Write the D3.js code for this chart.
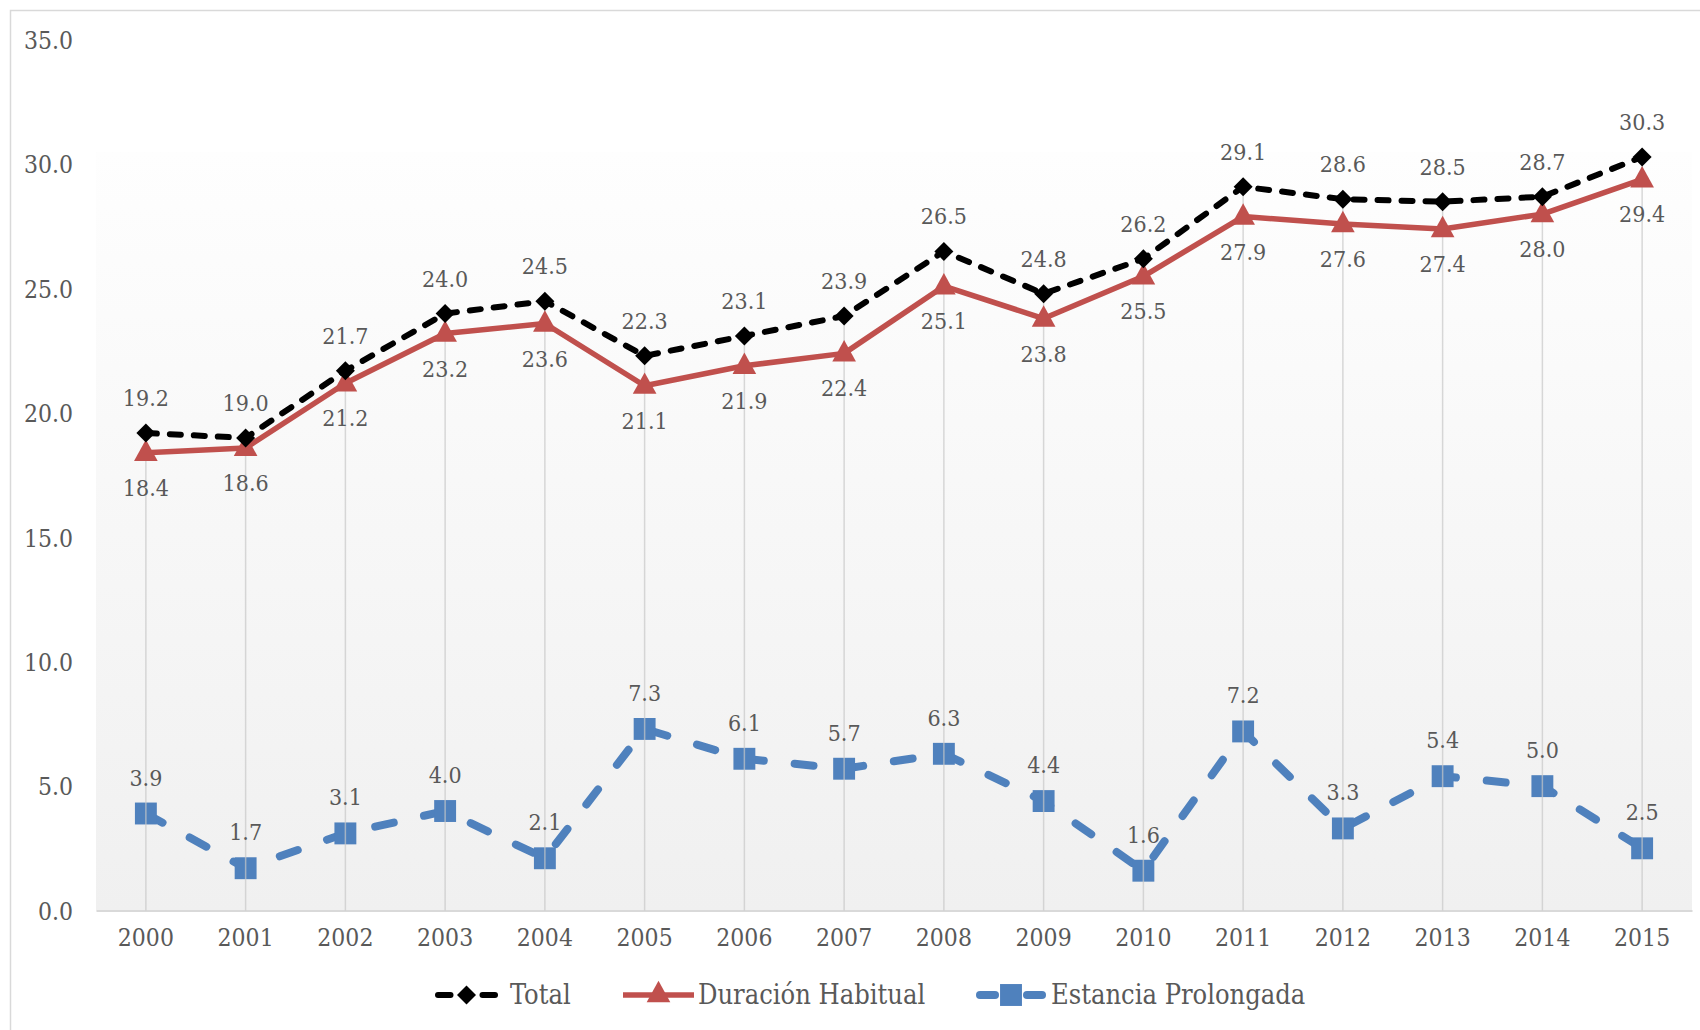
<!DOCTYPE html>
<html><head><meta charset="utf-8">
<script src="https://cdn.jsdelivr.net/npm/d3@7"></script>
<style>
html,body{margin:0;padding:0;background:#fff;}
svg text{font-family:"DejaVu Serif Condensed","DejaVu Serif","Liberation Serif",serif;font-stretch:condensed;fill:#595959;}
</style></head><body>
<svg id="c" width="1700" height="1030"></svg>
<script>
const years = ["2000","2001","2002","2003","2004","2005","2006","2007","2008","2009","2010","2011","2012","2013","2014","2015"];
const total = [19.2,19.0,21.7,24.0,24.5,22.3,23.1,23.9,26.5,24.8,26.2,29.1,28.6,28.5,28.7,30.3];
const habitual = [18.4,18.6,21.2,23.2,23.6,21.1,21.9,22.4,25.1,23.8,25.5,27.9,27.6,27.4,28.0,29.4];
const estancia = [3.9,1.7,3.1,4.0,2.1,7.3,6.1,5.7,6.3,4.4,1.6,7.2,3.3,5.4,5.0,2.5];
const yTicks = [0,5,10,15,20,25,30,35];
const seriesNames = ["Total","Duración Habitual","Estancia Prolongada"];

const svg = d3.select("#c");
const L=96, R=1692, T=40, B=910.5;
const x = d3.scaleBand().domain(years).range([L,R]);
const cx = d => x(d)+x.bandwidth()/2;
const y = d3.scaleLinear().domain([0,35]).range([B,T]);

// chart border
svg.append("rect").attr("x",10.5).attr("y",10.5).attr("width",1720).attr("height",1040)
  .attr("fill","#fff").attr("stroke","#d9d9d9").attr("stroke-width",1.5);

// plot area gradient
const defs = svg.append("defs");
const g = defs.append("linearGradient").attr("id","pg").attr("x1",0).attr("y1",0).attr("x2",0).attr("y2",1);
g.append("stop").attr("offset","0%").attr("stop-color","#fefefe");
g.append("stop").attr("offset","100%").attr("stop-color","#f0f0f0");
svg.append("rect").attr("x",L).attr("y",y(30.5)).attr("width",R-L).attr("height",B-y(30.5)).attr("fill","url(#pg)");

// y axis
const ya = svg.append("g").attr("transform",`translate(${L-20},0)`)
  .call(d3.axisLeft(y).tickValues(yTicks).tickFormat(d3.format(".1f")).tickSize(0));
ya.select(".domain").remove();
ya.selectAll("text").attr("font-size",24.5).attr("dy","0.35em").style("font-family",null);

// x axis
const xa = svg.append("g").attr("transform",`translate(0,${B})`)
  .call(d3.axisBottom(x).tickSize(0).tickPadding(18));
xa.select(".domain").attr("stroke","#d9d9d9").attr("stroke-width",2);
xa.selectAll("text").attr("font-size",24.5).style("font-family",null);

const idx = d3.range(years.length);
const line = arr => d3.line().x(i=>cx(years[i])).y(i=>y(arr[i]))(idx);

const cRed="#c0504d", cBlue="#4f81bd";

// series lines
svg.append("path").attr("d",line(estancia)).attr("fill","none").attr("stroke",cBlue)
  .attr("stroke-width",8).attr("stroke-linecap","round").attr("stroke-dasharray","19,31");
svg.append("path").attr("d",line(habitual)).attr("fill","none").attr("stroke",cRed)
  .attr("stroke-width",5.5).attr("stroke-linejoin","round");
svg.append("path").attr("d",line(total)).attr("fill","none").attr("stroke","#000")
  .attr("stroke-width",6).attr("stroke-linecap","round").attr("stroke-dasharray","11,13");

// markers
const sq = d3.symbol().type(d3.symbolSquare).size(480);
const tri = d3.symbol().type(d3.symbolTriangle).size(220);
const dia = d3.symbol().type(d3.symbolDiamond2).size(230);

svg.append("g").selectAll("path").data(idx).join("path")
  .attr("d",sq).attr("transform",i=>`translate(${cx(years[i])},${y(estancia[i])})`).attr("fill",cBlue);

// drop lines
svg.append("g").selectAll("line").data(idx).join("line")
  .attr("x1",i=>cx(years[i])).attr("x2",i=>cx(years[i]))
  .attr("y1",B).attr("y2",i=>y(Math.max(total[i],habitual[i],estancia[i])))
  .attr("stroke","#c8c8c8").attr("stroke-opacity",0.7).attr("stroke-width",1.5);

svg.append("g").selectAll("path").data(idx).join("path")
  .attr("d",tri).attr("transform",i=>`translate(${cx(years[i])},${y(habitual[i])+1}) scale(1.05,1.1)`).attr("fill",cRed);
svg.append("g").selectAll("path").data(idx).join("path")
  .attr("d",dia).attr("transform",i=>`translate(${cx(years[i])},${y(total[i])})`).attr("fill","#000");

// data labels
const fmt = d3.format(".1f");
function labels(arr, off){
  svg.append("g").selectAll("text").data(idx).join("text")
    .attr("x",i=>cx(years[i])).attr("y",i=>y(arr[i])+off).attr("dy","0.35em")
    .attr("text-anchor","middle").attr("font-size",23).text(i=>fmt(arr[i]));
}
labels(total,-35);
labels(habitual,35);
labels(estancia,-36);

// legend
const ly = 995;
const leg = [
  {name:seriesNames[0], x1:434, x2:499, tx:510, color:"#000", w:6, dash:"11,13", sym:dia, tr:""},
  {name:seriesNames[1], x1:623, x2:694, tx:698, color:cRed, w:5.5, dash:null, sym:tri, tr:" scale(1.05,1.1)"},
  {name:seriesNames[2], x1:976, x2:1046, tx:1051, color:cBlue, w:8, dash:"19,31", sym:sq, tr:""}
];
leg.forEach(d=>{
  const lg = svg.append("g");
  const m=(d.x1+d.x2)/2;
  if(d.dash){
    lg.append("line").attr("x1",d.x1+4).attr("x2",m-16).attr("y1",ly).attr("y2",ly).attr("stroke",d.color).attr("stroke-width",d.w).attr("stroke-linecap","round");
    lg.append("line").attr("x1",m+16).attr("x2",d.x2-4).attr("y1",ly).attr("y2",ly).attr("stroke",d.color).attr("stroke-width",d.w).attr("stroke-linecap","round");
  } else {
    lg.append("line").attr("x1",d.x1).attr("x2",d.x2).attr("y1",ly).attr("y2",ly).attr("stroke",d.color).attr("stroke-width",d.w);
  }
  lg.append("path").attr("d",d.sym).attr("transform",`translate(${m},${ly})${d.tr}`).attr("fill",d.color);
  lg.append("text").attr("x",d.tx).attr("y",ly).attr("dy","0.35em").attr("font-size",27).text(d.name);
});
</script></body></html>
